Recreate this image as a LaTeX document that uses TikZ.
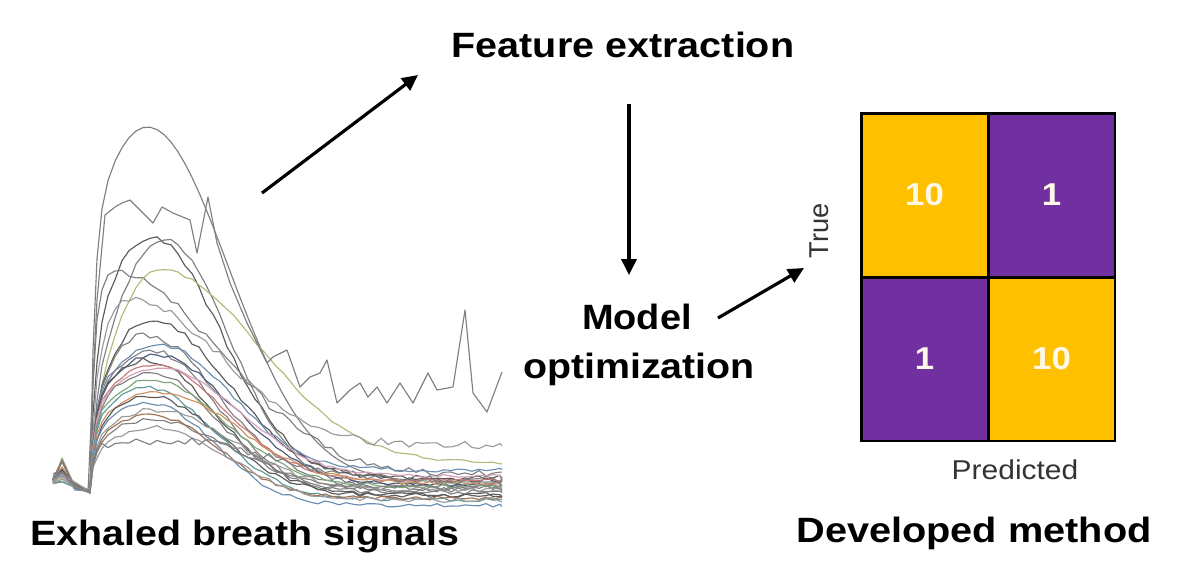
\documentclass[tikz,border=0pt]{standalone}
\usepackage{fontspec}
\setmainfont{Liberation Sans}
\usetikzlibrary{arrows.meta}
\definecolor{cmy}{HTML}{FFC000}
\definecolor{cmp}{HTML}{7030A0}
\definecolor{numc}{HTML}{FFF8E8}
\definecolor{labc}{HTML}{333333}
\definecolor{ga}{HTML}{808080}
\definecolor{gb}{HTML}{5A5A5A}
\definecolor{gc}{HTML}{9A9A9A}
\definecolor{sred}{HTML}{C87878}
\definecolor{spink}{HTML}{D4A0B8}
\definecolor{sblue}{HTML}{6A8CB0}
\definecolor{steal}{HTML}{5F9A9A}
\definecolor{sgreen}{HTML}{7AA67A}
\definecolor{solive}{HTML}{B8B878}
\definecolor{sbrown}{HTML}{A07050}
\definecolor{snavy}{HTML}{4A5A7A}
\definecolor{sorange}{HTML}{D09060}
\newcommand\sigcurve[7]{%
  \draw[sig,#7] (53,{479+5*rand}) -- (62,{470+12*rand}) -- (75,{486+4*rand}) -- (88,{491+1.5*rand})
    \foreach \xx in {90,93,97,102,108,115,122,...,500}{ -- (\xx,{yy(\xx,#1,#2,#3,#4,#5)+#6*rand}) } -- (502,{#2+#6*rand});
}
\begin{document}
\begin{tikzpicture}[x=0.02cm,y=-0.02cm,
  declare function={
    ff(\qa,\qb,\qc,\qd)=ifthenelse(\qa<=\qb,(1-exp(-min(\qa/4,9)))*(\qd+(1-\qd)*(1-(1-\qa/\qb)^2)),exp(-min(((\qa-\qb)/\qc)^2,9)));
    yy(\qx,\qe,\qf,\qb,\qc,\qd)=490-(490-\qf)*(1-exp(-min((\qx-90)/6,9)))-(\qf-\qe)*ff(\qx-90,\qb,\qc,\qd);
  },
  sig/.style={line width=0.65pt, line join=round},
  arr/.style={line width=1.8pt, -{Triangle[length=9pt,width=8.5pt]}},
  ttl/.style={font=\fontsize{20pt}{24pt}\selectfont\bfseries, inner sep=0pt, anchor=base},
  lab/.style={font=\fontsize{15.5pt}{18pt}\selectfont, text=labc, inner sep=0pt, anchor=base},
  cell/.style={draw=black, line width=1.7pt, minimum width=2.54cm, minimum height=3.28cm, inner sep=0pt,
    text=numc, font=\fontsize{18pt}{20pt}\selectfont\bfseries},
]
\useasboundingbox (0,0) rectangle (1197,586);
\fill[white] (0,0) rectangle (1197,586);
\pgfmathsetseed{4242}
% ---- signals
\sigcurve{127}{482}{57}{115}{0.7}{0}{ga}
\sigcurve{237}{478}{60}{100}{0.5}{3}{gb}
\sigcurve{240}{485}{75}{90}{0.3}{2.5}{ga}
\sigcurve{273}{475}{25}{150}{0.9}{4}{ga}
\sigcurve{270}{463}{70}{140}{0.2}{1.5}{solive}
\sigcurve{300}{445}{40}{130}{0.5}{4}{gc}
\sigcurve{320}{480}{60}{110}{0.4}{2.5}{gb}
\sigcurve{335}{488}{55}{105}{0.5}{3}{ga}
\sigcurve{345}{470}{70}{100}{0.55}{2}{sblue}
\sigcurve{350}{490}{60}{95}{0.55}{2.5}{ga}
\sigcurve{355}{485}{65}{110}{0.6}{2}{snavy}
\sigcurve{360}{495}{55}{100}{0.6}{2.5}{gb}
\sigcurve{365}{480}{65}{100}{0.6}{1.5}{sred}
\sigcurve{368}{476}{70}{110}{0.6}{1.5}{spink}
\sigcurve{372}{492}{60}{95}{0.6}{2.5}{ga}
\sigcurve{380}{486}{60}{105}{0.6}{2}{sgreen}
\sigcurve{388}{500}{55}{100}{0.65}{2}{steal}
\sigcurve{392}{483}{70}{110}{0.6}{2}{sorange}
\sigcurve{397}{495}{60}{100}{0.6}{2.5}{gb}
\sigcurve{403}{505}{60}{90}{0.65}{2}{sblue}
\sigcurve{410}{490}{65}{110}{0.6}{2.5}{gc}
\sigcurve{415}{498}{60}{95}{0.6}{2}{sbrown}
\sigcurve{420}{488}{60}{110}{0.6}{2.5}{ga}
\sigcurve{428}{500}{65}{100}{0.6}{2.5}{gc}
\sigcurve{441}{480}{90}{120}{0.9}{4}{ga}
\draw[sig,ga] (53,480) -- (62,462) -- (75,487) -- (88,492) -- (93,380) -- (97,300) -- (105,215) -- (115,207)
  -- (122,203) -- (130,200) -- (140,210) -- (153,223) -- (162,207) -- (173,213) -- (190,220) -- (197,253)
  -- (208,197) -- (217,243) -- (230,283) -- (247,323) -- (267,363) -- (273,357) -- (287,350) -- (300,387)
  -- (310,377) -- (320,373) -- (327,360) -- (337,403) -- (350,390) -- (360,383) -- (368,397) -- (377,387)
  -- (387,403) -- (400,383) -- (413,403) -- (428,373) -- (437,390) -- (453,387) -- (465,310) -- (473,393)
  -- (487,412) -- (502,372);
% ---- texts
\node[ttl] (feat) at (623,57) {\scalebox{1.125}[1]{Feature extraction}};
\node[ttl] (mod1) at (637,329) {\scalebox{1.08}[1]{Model}};
\node[ttl] (mod2) at (639,378) {\scalebox{1.12}[1]{optimization}};
\node[ttl] (exh) at (245,545) {\scalebox{1.12}[1]{Exhaled breath signals}};
\node[ttl] (dev) at (974,542) {\scalebox{1.13}[1]{Developed method}};
% ---- confusion matrix
\node[cell, fill=cmy] (c11) at (924.5,195) {\scalebox{1.1}[1]{10}};
\node[cell, fill=cmp] (c12) at (1051.5,195) {\scalebox{1.1}[1]{1}};
\node[cell, fill=cmp] (c21) at (924.5,359) {\scalebox{1.1}[1]{1}};
\node[cell, fill=cmy] (c22) at (1051.5,359) {\scalebox{1.1}[1]{10}};
\node[lab] (pred) at (1015,479) {\scalebox{1.1}[1]{Predicted}};
\node[lab, rotate=90] (true) at (828,231) {True};
% ---- arrows
\coordinate (sigout) at (262,193);
\coordinate (featin) at (418,75);
\coordinate (featout) at (629,104);
\coordinate (modin) at (629,275);
\coordinate (modout) at (718,318);
\coordinate (cmin) at (804,268);
\draw[arr] (sigout) -- (featin);
\draw[arr] (featout) -- (modin);
\draw[arr] (modout) -- (cmin);
\end{tikzpicture}
\end{document}
